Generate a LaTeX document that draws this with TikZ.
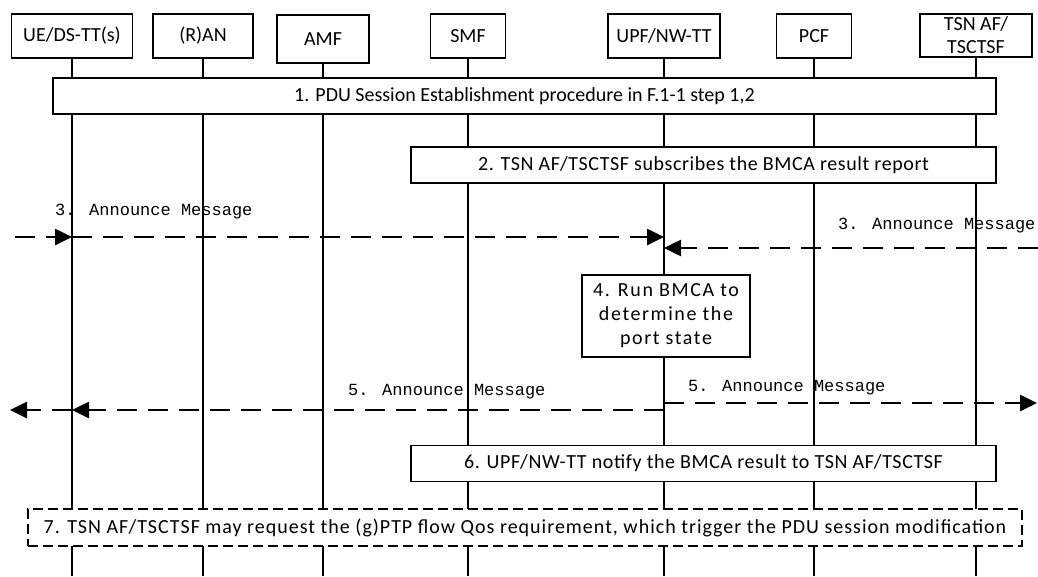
\documentclass[tikz,border=0pt]{standalone}
\usepackage{fontspec}
\setmainfont{Carlito}
\newfontfamily\msgfont{Liberation Mono}
\usetikzlibrary{arrows.meta}

\newcommand\spaced[1]{\fontsize{20}{24}\selectfont\addfontfeature{LetterSpace=#1}}

\begin{document}
\begin{tikzpicture}[
    x=1pt, y=-1pt,
    entity/.style={draw, line width=1.2pt, fill=white, align=center, minimum height=44pt, inner sep=1pt, font=\fontsize{20}{21}\selectfont},
    stepbox/.style={draw, line width=1.2pt, fill=white, align=center, minimum height=36pt, inner sep=1pt, font=\spaced{3}},
    optbox/.style={stepbox, dash pattern=on 10pt off 5pt},
    life/.style={line width=2.4pt},
    msg/.style={-{Triangle[length=17pt,width=16pt]}, line width=2.6pt, dash pattern=on 20pt off 11pt},
    msglabel/.style={font=\msgfont\fontsize{17}{18}\selectfont, inner sep=0pt, anchor=west}
]
\useasboundingbox (0,0) rectangle (1038,576);

% entities
\node[entity, minimum width=121pt] (ue) at (72,36) {UE/DS-TT(s)};
\node[entity, minimum width=100pt] (ran) at (203,36) {(R)AN};
\node[entity, minimum width=92pt, minimum height=48pt] (amf) at (323,39) {AMF};
\node[entity, minimum width=75pt] (smf) at (468,36) {SMF};
\node[entity, minimum width=112pt] (upf) at (664,36) {UPF/NW-TT};
\node[entity, minimum width=75pt] (pcf) at (814,36) {PCF};
\node[entity, minimum width=112pt, minimum height=43pt, font=\fontsize{20}{23}\selectfont] (tsn) at (976,35.5) {TSN AF/\\TSCTSF};

% lifelines
\foreach \e in {ue,ran,amf,smf,upf,pcf,tsn}
    \draw[life] (\e.south) -- (\e.south |- 0,576);

% steps
\node[stepbox, minimum width=943pt, font=\spaced{0}] (s1) at (524.5,96) {1. PDU Session Establishment procedure in F.1-1 step 1,2};
\node[stepbox, minimum width=585pt] (s2) at (703.5,165) {2. TSN AF/TSCTSF subscribes the BMCA result report};

\coordinate (in3) at (15,237);
\coordinate (ue3) at (ue.south |- 0,237);
\coordinate (upf3) at (upf.south |- 0,237);
\coordinate (out3) at (1038,248);
\coordinate (upf3b) at (upf.south |- 0,248);
\draw[msg] (in3) -- (ue3);
\draw[msg] (ue3) -- (upf3);
\draw[msg] (out3) -- (upf3b);
\node[msglabel] (m3a) at (55,212) {3. Announce Message};
\node[msglabel] (m3b) at (838,226) {3. Announce Message};

\node[stepbox, minimum width=168pt, minimum height=82pt, font=\spaced{8}] (s4) at (666,316) {4. Run BMCA to\\determine the\\port state};

\coordinate (upf5) at (upf.south |- 0,410);
\coordinate (ue5) at (ue.south |- 0,410);
\coordinate (out5a) at (10,410);
\coordinate (upf5b) at (upf.south |- 0,403);
\coordinate (out5b) at (1037,403);
\draw[msg] (upf5) -- (ue5);
\draw[msg] (ue5) -- (out5a);
\draw[msg] (upf5b) -- (out5b);
\node[msglabel] (m5a) at (348,392) {5. Announce Message};
\node[msglabel] (m5b) at (688,388) {5. Announce Message};

\node[stepbox, minimum width=585pt] (s6) at (703.5,463.5) {6. UPF/NW-TT notify the BMCA result to TSN AF/TSCTSF};
\node[optbox, minimum width=994pt, minimum height=37pt, font=\spaced{5}] (s7) at (525,527.5) {7. TSN AF/TSCTSF may request the (g)PTP flow Qos requirement, which trigger the PDU session modification};
\end{tikzpicture}
\end{document}
